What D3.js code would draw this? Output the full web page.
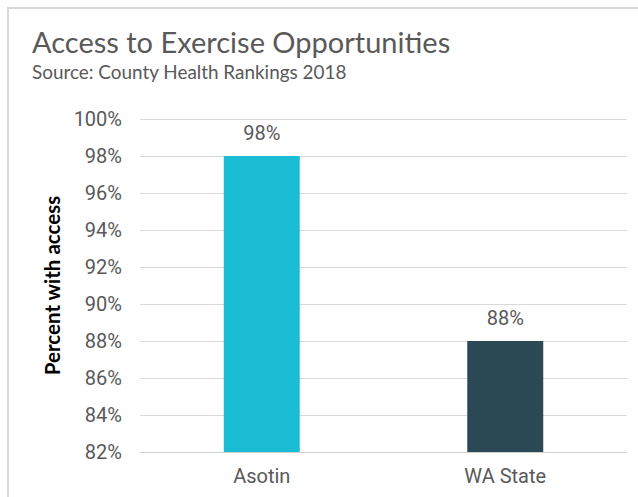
<!DOCTYPE html>
<html>
<head>
<meta charset="utf-8">
<script src="https://cdn.jsdelivr.net/npm/d3@7"></script>
<style>
  html, body { margin: 0; padding: 0; background: #fff; }
  svg { display: block; }
</style>
</head>
<body>
<div id="chart"></div>
<script>
// Chart data
const categories = ["Asotin", "WA State"];
const values = [98, 88];
const barColors = ["#1bbdd4", "#2b4954"];
const yTicks = [82, 84, 86, 88, 90, 92, 94, 96, 98, 100];
const title = "Access to Exercise Opportunities";
const subtitle = "Source: County Health Rankings 2018";
const yAxisTitle = "Percent with access";

const width = 638, height = 497;
const margin = { top: 119, right: 11, bottom: 45, left: 140 };

const svg = d3.select("#chart").append("svg")
  .attr("width", width)
  .attr("height", height);

// Outer frame (left and top edges visible)
svg.append("path")
  .attr("d", `M8,${height} L8,8 L${width},8`)
  .attr("fill", "none")
  .attr("stroke", "#d9d9d9")
  .attr("stroke-width", 2);

const x = d3.scaleBand()
  .domain(categories)
  .range([margin.left, width - margin.right])
  .paddingInner(0.688)
  .paddingOuter(0.344);

const y = d3.scaleLinear()
  .domain([82, 100])
  .range([height - margin.bottom, margin.top]);

// Gridlines
svg.append("g")
  .selectAll("line")
  .data(yTicks)
  .join("line")
  .attr("x1", margin.left)
  .attr("x2", width - margin.right)
  .attr("y1", d => Math.round(y(d)) + 0.5)
  .attr("y2", d => Math.round(y(d)) + 0.5)
  .attr("stroke", "#d9d9d9")
  .attr("stroke-width", 1);

// Y axis labels
const yAxis = d3.axisLeft(y)
  .tickValues(yTicks)
  .tickFormat(d => d + "%")
  .tickSize(0)
  .tickPadding(18);

svg.append("g")
  .attr("transform", `translate(${margin.left},0)`)
  .call(yAxis)
  .call(g => g.select(".domain").remove())
  .selectAll("text")
  .attr("font-family", "Roboto, sans-serif")
  .attr("font-size", 20)
  .attr("fill", "#595959");

// Bars
svg.append("g")
  .selectAll("rect")
  .data(categories)
  .join("rect")
  .attr("x", d => x(d))
  .attr("width", x.bandwidth())
  .attr("y", (d, i) => y(values[i]))
  .attr("height", (d, i) => y(82) - y(values[i]))
  .attr("fill", (d, i) => barColors[i]);

// Bottom axis line
svg.append("line")
  .attr("x1", margin.left)
  .attr("x2", width - margin.right)
  .attr("y1", Math.round(y(82)) + 0.5)
  .attr("y2", Math.round(y(82)) + 0.5)
  .attr("stroke", "#d0d0d0");

// Category labels
const xAxis = d3.axisBottom(x).tickSize(0).tickPadding(17);
svg.append("g")
  .attr("transform", `translate(0,${y(82)})`)
  .call(xAxis)
  .call(g => g.select(".domain").remove())
  .selectAll("text")
  .attr("font-family", "Roboto, sans-serif")
  .attr("font-size", 20)
  .attr("fill", "#595959");

// Value labels
svg.append("g")
  .selectAll("text")
  .data(categories)
  .join("text")
  .attr("x", d => x(d) + x.bandwidth() / 2)
  .attr("y", (d, i) => y(values[i]) - 16)
  .attr("text-anchor", "middle")
  .attr("font-family", "Roboto, sans-serif")
  .attr("font-size", 20)
  .attr("fill", "#595959")
  .text((d, i) => values[i] + "%");

// Y axis title
svg.append("text")
  .attr("transform", `translate(60,${(y(82) + y(100)) / 2}) rotate(-90)`)
  .attr("text-anchor", "middle")
  .attr("font-family", "Lato, sans-serif")
  .attr("font-weight", "bold")
  .attr("font-size", 20.5)
  .attr("fill", "#000")
  .text(yAxisTitle);

// Title and subtitle
svg.append("text")
  .attr("x", 32)
  .attr("y", 53)
  .attr("font-family", "Lato, sans-serif")
  .attr("font-size", 29)
  .attr("fill", "#595959")
  .text(title);

svg.append("text")
  .attr("x", 32)
  .attr("y", 79)
  .attr("font-family", "Lato, sans-serif")
  .attr("font-size", 18.9)
  .attr("fill", "#595959")
  .text(subtitle);
</script>
</body>
</html>
